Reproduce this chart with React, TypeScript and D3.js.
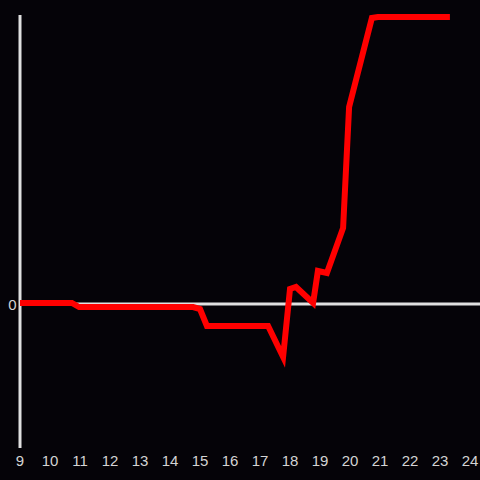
import React from "react";
import * as d3 from "d3";

const hours: number[] = [9.0, 10.73, 10.97, 14.77, 15.0, 15.23, 17.27, 17.77, 18.0, 18.2, 18.77, 18.93, 19.23, 19.77, 19.97, 20.73, 20.93, 23.33];
const values: number[] = [1, 1, -3, -3, -5, -22, -22, -53, 15, 17, 1, 33, 31, 76, 197, 286, 287, 287];
const xTicks: number[] = [9, 10, 11, 12, 13, 14, 15, 16, 17, 18, 19, 20, 21, 22, 23, 24];
const yTicks: number[] = [0];

const W = 480;
const H = 480;

export default function App() {
  const x = d3.scaleLinear().domain([9, 24]).range([20, 470]);
  const y = d3.scaleLinear().domain([-144, 289]).range([448, 15]);
  const data = hours.map((h, i) => ({ h, v: values[i] }));
  const line = d3
    .line<{ h: number; v: number }>()
    .x((d) => x(d.h))
    .y((d) => y(d.v));
  return (
    <svg
      width={W}
      height={H}
      style={{ position: "fixed", left: 0, top: 0, display: "block" }}
      fontFamily="'Liberation Sans', Arial, sans-serif"
    >
      <rect x={0} y={0} width={W} height={H} fill="#050308" />
      <line x1={x(9)} x2={x(9)} y1={y(289)} y2={y(-144)} stroke="#e0e0e0" strokeWidth={3} />
      {yTicks.map((t) => (
        <g key={t}>
          <line x1={x(9)} x2={W} y1={y(t)} y2={y(t)} stroke="#e0e0e0" strokeWidth={3} />
          <text x={16.5} y={y(t) + 6} textAnchor="end" fontSize={15} fill="#d4d4d4">
            {t}
          </text>
        </g>
      ))}
      {xTicks.map((t) => (
        <text key={t} x={x(t)} y={466} textAnchor="middle" fontSize={15} fill="#d4d4d4">
          {t}
        </text>
      ))}
      <path d={line(data) || ""} fill="none" stroke="#ff0000" strokeWidth={6} />
    </svg>
  );
}
